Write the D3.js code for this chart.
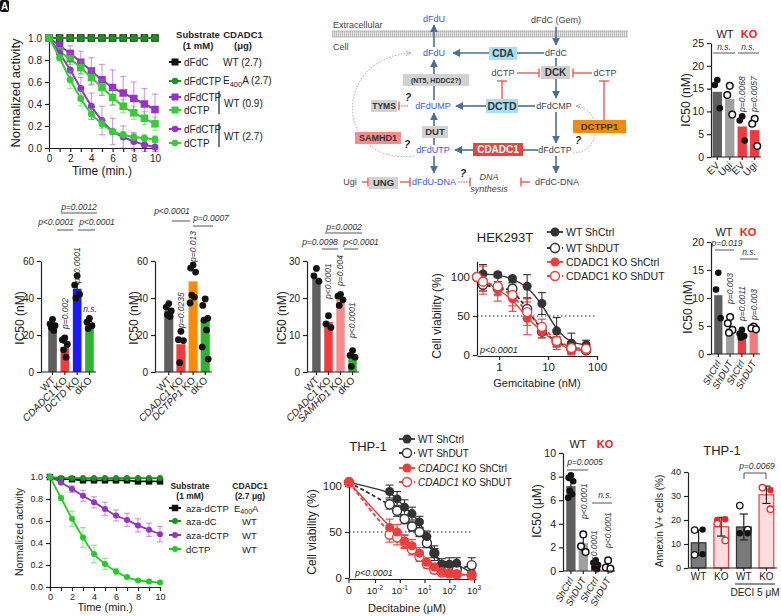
<!DOCTYPE html>
<html><head><meta charset="utf-8">
<script src="https://cdn.jsdelivr.net/npm/d3@7"></script>
<style>body{margin:0;background:#fff}</style>
</head><body><svg id="c" width="781" height="616"></svg>
<script>
// ---------------- DATA ----------------
// Panel A (gemcitabine nucleotides)
const timeMin = [0,1,2,3,4,5,6,7,8,9,10];
const aDfdc      = [1,1,1,1,1,1,1,1,1,1,1];
const aE400A     = [1,1,1,1,1,1,1,1,1,1,1];
const aDfdctp09  = [1.0,0.93,0.86,0.78,0.70,0.62,0.55,0.50,0.45,0.40,0.35];
const aDfdctp09E = [0,0.04,0.07,0.1,0.12,0.14,0.16,0.15,0.15,0.14,0.14];
const aDctp09    = [1.0,0.88,0.81,0.73,0.64,0.55,0.46,0.38,0.32,0.27,0.22];
const aDctp09E   = [0,0.03,0.05,0.06,0.07,0.07,0.07,0.06,0.06,0.06,0.06];
const aDfdctp27  = [1.0,0.86,0.71,0.54,0.38,0.25,0.15,0.10,0.06,0.03,0.01];
const aDfdctp27E = [0,0.04,0.08,0.1,0.12,0.13,0.12,0.1,0.08,0.06,0.04];
const aDctp27    = [1.0,0.82,0.62,0.45,0.31,0.22,0.15,0.12,0.10,0.09,0.08];
const aDctp27E   = [0,0.03,0.08,0.07,0.05,0.04,0.03,0.03,0.03,0.03,0.03];
// Panel I (decitabine nucleotides)
const iAzaDctpE400A = [1,0.98,0.98,0.97,0.97,0.97,0.97,0.97,0.96,0.96,0.96];
const iAzaDc        = [1,0.99,0.99,0.99,0.99,0.99,0.99,0.99,0.99,0.99,0.99];
const iAzaDctp      = [1.0,0.95,0.89,0.83,0.77,0.71,0.65,0.61,0.56,0.52,0.48];
const iAzaDctpE     = [0,0.02,0.03,0.05,0.05,0.06,0.05,0.06,0.06,0.06,0.07];
const iDctp         = [1.0,0.81,0.62,0.45,0.30,0.21,0.14,0.09,0.06,0.05,0.04];
const iDctpE        = [0,0.02,0.07,0.09,0.08,0.05,0.03,0.01,0.01,0.01,0.01];
// Panel C
const cLabels = ["EV","Ugi","EV","Ugi"];
const cVals = [14.3,12.7,6.7,5.9];
const cDots = [[16.9,15.8,10.7],[15.6,13.6,9.3],[8.9,8.0,3.6],[8.4,7.3,2.4]];
const cOpen = [false,true,false,true];
const cTicks = [0,5,10,15,20,25];
// Panel D
const dLabels = [[["WT",0]],[["CDADC1",1],[" KO",0]],[["DCTD",1],[" KO",0]],[["dKO",0]]];
const dVals = [25.3,13.5,45,26];
const dErr = [1.2,2.0,2.6,1.3];
const dDots = [[28.5,26,25,24,22.5],[18.5,17.5,15,12,8],[52,47,42,40],[29,27,25,23.5]];
const dTicks = [0,20,40,60];
// Panel E
const eLabels = [[["WT",0]],[["CDADC1",1],[" KO",0]],[["DCTPP1",1],[" KO",0]],[["dKO",0]]];
const eVals = [33,15,49,28];
const eDots = [[37,35,33,31,30],[22,17.5,17,5],[57.8,56.2,54,41.6,40.5,37.3],[39.5,36,29,28,22.7,13.5,7]];
// Panel F
const fLabels = [[["WT",0]],[["CDADC1",1],[" KO",0]],[["SAMHD1",1],[" KO",0]],[["dKO",0]]];
const fVals = [25.5,13.5,19.5,3.8];
const fDots = [[28,26,24.5],[15.2,13,12],[21,20.5,19.5,18],[5.8,4.5,4,1.5]];
const fTicks = [0,10,20,30];
// Panel G (HEK293T, gemcitabine nM)
const gConc = [0,0.47,0.94,1.88,3.75,7.5,15,30,60];
const gWtCtrl  = [100,104,103,98,88,66,31,15,13];
const gWtCtrlE = [0,12,3,3,15,14,17,13,6];
const gWtDut   = [100,90,86,85,59,30,17,8,6];
const gWtDutE  = [0,8,8,8,14,8,6,5,4];
const gKoCtrl  = [100,96,84,72,47,30,15,6,6];
const gKoCtrlE = [0,18,15,16,21,8,8,6,4];
const gKoDut   = [100,94,88,77,55,36,18,9,8];
const gKoDutE  = [0,12,12,14,17,10,8,8,5];
const gTicks = [1,10,100];
// Panel H
const hLabels = ["ShCtrl","ShDUT","ShCtrl","ShDUT"];
const hVals = [10.5,4.6,3.5,4.6];
const hDots = [[14.5,11.5,6.4],[6.6,5.5,4.3,3.8],[4.3,3.6,3.2,2.9],[4.9,4.6,4.4]];
const hOpen = [false,true,false,true];
const hTicks = [0,5,10,15,20];
// Panel J (THP-1, decitabine µM)
const jConc = [0,0.039,0.078,0.156,0.3125,0.625,1.25,2.5,5,10,20,80];
const jWtCtrl  = [104,94,86,77,70,61,45,27,15,15,16,5];
const jWtCtrlE = [0,7,8,8,7,6,6,8,6,7,6,5];
const jWtDut   = [104,80,73,64,56,50,38,27,14,10,9,14];
const jWtDutE  = [0,5,6,5,5,5,5,5,4,4,4,8];
const jKoCtrl  = [104,55,50,40,35,27,17,12,7,5,4,3];
const jKoCtrlE = [0,9,8,7,7,6,5,4,3,3,3,2];
const jKoDut   = [104,47,44,39,31,23,15,9,6,5,4,3];
const jKoDutE  = [0,8,8,7,6,5,4,4,3,3,3,2];
const jTickVals = [0.01,0.1,1,10,100];
const jTickLabels = [["10","-2"],["10","-1"],["10","1"],["10","2"],["10","3"]];
// Panel K
const kLabels = ["ShCtrl","ShDUT","ShCtrl","ShDUT"];
const kVals = [7.2,2.35,0.45,0.3];
const kErr = [0.45,0.6,0.15,0.12];
const kDots = [[8.1,7.9,7.6,6.8,6.5,6.2],[3.1,2.1,1.6],[0.9,0.7,0.5,0.3,0.15],[0.9,0.3,0.2]];
const kOpen = [false,true,false,true];
const kTicks = [0,2,4,6,8,10];
// Panel L
const lLabels = ["WT","KO","WT","KO"];
const lVals = [10.5,17.2,17.1,30.5];
const lSd = [5.3,3.9,5.4,3.6];
const lDots = [[15.8,16.0,5.5,5.8],[20.0,20.3,18.5,11.5],[26,16,14.5,14.5],[33.5,32.5,33.5,24.5]];
const lFilled = [[0,1,0,1],[1,1,0,0],[0,0,1,1],[1,1,0,0]];
const lTicks = [0,10,20,30,40];

// ---------------- HELPERS ----------------
const F = '"Liberation Sans", Arial, Helvetica, sans-serif';
const svg = d3.select('#c').attr('font-family', F);
const INK = '#222';
const RED = '#f03c3c';
function txt(x,y,s,o={}){
  const t = svg.append('text').attr('x',x).attr('y',y).text(s)
    .attr('font-size',o.size||10).attr('fill',o.fill||INK).attr('text-anchor',o.anchor||'start');
  if(o.bold) t.attr('font-weight','bold');
  if(o.italic) t.attr('font-style','italic');
  if(o.rot!=null) t.attr('transform',`rotate(${o.rot},${x},${y})`);
  return t;
}
function hline(x1,x2,y,c,w,dash){const l=svg.append('line').attr('x1',x1).attr('x2',x2).attr('y1',y).attr('y2',y).attr('stroke',c||'#555').attr('stroke-width',w||1); if(dash) l.attr('stroke-dasharray',dash); return l;}
function styleAxis(g,fs){
  g.attr('font-family',F);
  g.selectAll('path,line').attr('stroke',INK).attr('stroke-width',1.2);
  g.selectAll('text').attr('font-size',fs||10).attr('fill',INK);
}
function marker(g,shape,cx,cy,size,color,open){
  if(shape==='square') g.append('rect').attr('x',cx-size/2).attr('y',cy-size/2).attr('width',size).attr('height',size)
     .attr('fill',open?'#fff':color).attr('stroke',color).attr('stroke-width',open?1.4:0);
  else g.append('circle').attr('cx',cx).attr('cy',cy).attr('r',size/2)
     .attr('fill',open?'#fff':color).attr('stroke',color).attr('stroke-width',open?1.4:0);
}

// panel letter
svg.append('rect').attr('x',0).attr('y',0).attr('width',9).attr('height',12).attr('rx',2).attr('fill','#111');
txt(4.5,10,'A',{size:10,bold:true,fill:'#fff',anchor:'middle'});

// ---------------- KINETIC LINE CHARTS (A, I) ----------------
function kinetic(o){
  const x = d3.scaleLinear().domain([0,10]).range(o.xr);
  const y = d3.scaleLinear().domain([0,1]).range(o.yr);
  const g = svg.append('g');
  const ya = g.append('g').attr('transform',`translate(${o.xr[0]},0)`)
    .call(d3.axisLeft(y).tickValues([0,0.2,0.4,0.6,0.8,1.0]).tickFormat(d3.format('.1f')).tickSize(4).tickSizeOuter(0));
  styleAxis(ya,o.fs);
  const xa = g.append('g').attr('transform',`translate(0,${o.yr[0]})`)
    .call(d3.axisBottom(x).tickValues(d3.range(0,11)).tickFormat(d=>d%2?'':d).tickSize(4).tickSizeOuter(0));
  styleAxis(xa,o.fs);
  o.series.forEach(s=>{
    if(s.e){
      s.v.forEach((v,i)=>{ if(!s.e[i]) return;
        const cx=x(timeMin[i]);
        g.append('line').attr('x1',cx).attr('x2',cx).attr('y1',y(v-s.e[i])).attr('y2',y(v+s.e[i])).attr('stroke',s.c).attr('stroke-opacity',0.45).attr('stroke-width',1.2);
        [v-s.e[i],v+s.e[i]].forEach(w=>g.append('line').attr('x1',cx-3).attr('x2',cx+3).attr('y1',y(w)).attr('y2',y(w)).attr('stroke',s.c).attr('stroke-opacity',0.45).attr('stroke-width',1.2));
      });
    }
    g.append('path').datum(s.v).attr('fill','none').attr('stroke',s.c).attr('stroke-width',o.lw||2)
      .attr('d',d3.line().x((d,i)=>x(timeMin[i])).y(d=>y(d)).curve(d3.curveMonotoneX));
    s.v.forEach((v,i)=>marker(g,s.shape,x(timeMin[i]),y(v),s.shape==='square'?o.sq:o.cr,s.c,false));
  });
  return {x,y};
}
const PUR='#9632c8', GRN='#36cc36', DGRN='#1f8f1f';
kinetic({xr:[49,155], yr:[148,38], fs:10, sq:7.5, cr:7, series:[
  {v:aDfdc,c:'#111',shape:'square'},
  {v:aE400A,c:DGRN,shape:'circle'},
  {v:aDfdctp09,e:aDfdctp09E,c:PUR,shape:'square'},
  {v:aDctp09,e:aDctp09E,c:GRN,shape:'square'},
  {v:aDfdctp27,e:aDfdctp27E,c:PUR,shape:'circle'},
  {v:aDctp27,e:aDctp27E,c:GRN,shape:'circle'}
]});
txt(20,93,'Normalized activity',{size:13,anchor:'middle',rot:-90});
txt(102,175,'Time (min.)',{size:12,anchor:'middle'});
// legend A
txt(198,38,'Substrate',{size:9.5,bold:true,anchor:'middle'});
txt(198,49,'(1 mM)',{size:9.5,bold:true,anchor:'middle'});
txt(243,38,'CDADC1',{size:9.5,bold:true,anchor:'middle'});
txt(243,49,'(μg)',{size:9.5,bold:true,anchor:'middle'});
function legItem(y,shape,c,label,mx,tx,fs,sz){
  const g=svg.append('g');
  g.append('line').attr('x1',mx-6).attr('x2',mx+6).attr('y1',y).attr('y2',y).attr('stroke',c).attr('stroke-width',2);
  marker(g,shape,mx,y,sz,c,false);
  txt(tx,y+3.5,label,{size:fs});
}
legItem(62,'square','#111','dFdC',175,184,10,7);
legItem(81,'circle',DGRN,'dFdCTP',175,184,10,6.5);
legItem(97,'square',PUR,'dFdCTP',175,184,10,7);
legItem(110,'square',GRN,'dCTP',175,184,10,7);
legItem(129,'circle',PUR,'dFdCTP',175,184,10,6.5);
legItem(143,'circle',GRN,'dCTP',175,184,10,6.5);
txt(223,66,'WT (2.7)',{size:10});
{const t=txt(223,84,'E',{size:10}); t.append('tspan').attr('font-size',7.5).attr('dy',3).text('400'); t.append('tspan').attr('dy',-3).text('A (2.7)');}
svg.append('line').attr('x1',219).attr('x2',219).attr('y1',91).attr('y2',114).attr('stroke',INK).attr('stroke-width',1.2);
txt(224,107,'WT (0.9)',{size:10});
svg.append('line').attr('x1',219).attr('x2',219).attr('y1',123).attr('y2',147).attr('stroke',INK).attr('stroke-width',1.2);
txt(224,140,'WT (2.7)',{size:10});

kinetic({xr:[50,160], yr:[587,477], fs:9, sq:6.5, cr:6, lw:1.8, series:[
  {v:iAzaDctpE400A,c:'#111',shape:'square'},
  {v:iAzaDc,c:DGRN,shape:'circle'},
  {v:iAzaDctp,e:iAzaDctpE,c:PUR,shape:'circle'},
  {v:iDctp,e:iDctpE,c:'#22cc22',shape:'circle'}
]});
txt(23,532,'Normalized activity',{size:10.5,anchor:'middle',rot:-90});
txt(105,611,'Time (min.)',{size:11,anchor:'middle'});
txt(190,489,'Substrate',{size:8.5,bold:true,anchor:'middle'});
txt(190,498.5,'(1 mM)',{size:8.5,bold:true,anchor:'middle'});
txt(250,489,'CDADC1',{size:8.5,bold:true,anchor:'middle'});
txt(250,498.5,'(2.7 μg)',{size:8.5,bold:true,anchor:'middle'});
legItem(508,'square','#111','aza-dCTP',175,186,9.5,6.5);
legItem(521,'circle',DGRN,'aza-dC',175,186,9.5,6);
legItem(535,'circle',PUR,'aza-dCTP',175,186,9.5,6);
legItem(549,'circle','#22cc22','dCTP',175,186,9.5,6);
{const t=txt(234,511.5,'E',{size:9.5}); t.append('tspan').attr('font-size',7).attr('dy',2.5).text('400'); t.append('tspan').attr('dy',-2.5).text('A');}
txt(242,524.5,'WT',{size:9.5}); txt(242,538.5,'WT',{size:9.5}); txt(242,552.5,'WT',{size:9.5});

// ---------------- BAR CHARTS ----------------
const JIT=[0,-1,1,-0.5,0.5,-1.2,1.2];
function bars(o){
  const y=d3.scaleLinear().domain([0,o.max]).range([o.y0,o.yTop]);
  const x=d3.scaleBand().domain(d3.range(o.vals.length)).range(o.xr).paddingInner(o.pi??0.3).paddingOuter(o.po??0.1);
  const g=svg.append('g');
  const bw=x.bandwidth();
  g.selectAll('rect.b').data(o.vals).join('rect').attr('x',(d,i)=>x(i)).attr('y',d=>y(d)).attr('width',bw)
    .attr('height',d=>o.y0-y(d)).attr('fill',(d,i)=>o.colors[i])
    .attr('stroke',(d,i)=>o.strokes?o.strokes[i]:'none').attr('stroke-width',1.2);
  if(o.errs) o.vals.forEach((v,i)=>{
    const cx=x(i)+bw/2, c=o.errColor||INK;
    g.append('line').attr('x1',cx).attr('x2',cx).attr('y1',y(Math.max(0,v-o.errs[i]))).attr('y2',y(v+o.errs[i])).attr('stroke',c).attr('stroke-width',1.2);
    [v+o.errs[i]].concat(o.errBoth?[v-o.errs[i]]:[]).forEach(w=>g.append('line').attr('x1',cx-bw*0.28).attr('x2',cx+bw*0.28).attr('y1',y(w)).attr('y2',y(w)).attr('stroke',c).attr('stroke-width',1.2));
  });
  o.dots.forEach((arr,i)=>arr.forEach((v,j)=>{
    const cx=x(i)+bw/2+JIT[j%JIT.length]*(o.jit??3);
    const open=o.open?o.open[i]:false;
    g.append('circle').attr('cx',cx).attr('cy',y(v)).attr('r',o.r||3.3)
      .attr('fill',open?'#fff':(o.dotColor||'#111')).attr('stroke',o.dotColor||'#111').attr('stroke-width',open?1.5:0);
  }));
  const ya=g.append('g').attr('transform',`translate(${o.ax},0)`)
    .call(d3.axisLeft(y).tickValues(o.ticks).tickSize(4).tickSizeOuter(0));
  styleAxis(ya,o.fs||10);
  g.append('line').attr('x1',o.ax).attr('x2',o.xr[1]+1).attr('y1',o.y0).attr('y2',o.y0).attr('stroke',INK).attr('stroke-width',1.2);
  o.vals.forEach((v,i)=>{const cx=x(i)+bw/2; g.append('line').attr('x1',cx).attr('x2',cx).attr('y1',o.y0).attr('y2',o.y0+3).attr('stroke',INK).attr('stroke-width',1.2);});
  if(o.labels) o.labels.forEach((l,i)=>{
    const cx=x(i)+bw/2+(o.lxo??3), ly=o.y0+(o.lyo??9);
    const t=svg.append('text').attr('x',cx).attr('y',ly).attr('font-size',o.lfs||10).attr('fill',INK)
      .attr('text-anchor','end').attr('transform',`rotate(${o.rot??-45},${cx},${ly})`);
    const segs=Array.isArray(l)?l:[[l,o.litalic?1:0]];
    segs.forEach(s=>t.append('tspan').text(s[0]).attr('font-style',s[1]?'italic':'normal'));
  });
  return {x,y,bw};
}
function vp(x,y,s,fs){return txt(x,y,s,{size:fs||8.5,italic:true,rot:-90,fill:'#333'});}

// Panel C
bars({ax:711,y0:157,yTop:43,max:25,xr:[712,760],pi:0.25,po:0.05,vals:cVals,colors:['#5f5f5f','#a0a0a0',RED,RED],
  dots:cDots,open:cOpen,ticks:cTicks,fs:10.5,labels:cLabels,jit:2.5,r:3.3});
txt(690,100,'IC50 (nM)',{size:12,anchor:'middle',rot:-90});
txt(725,38,'WT',{size:11,anchor:'middle'});
txt(749,38,'KO',{size:11,anchor:'middle',fill:'#ff2020',bold:true});
txt(724,50,'n.s.',{size:8.5,italic:true,anchor:'middle',fill:'#333'}); hline(713,735,53);
txt(748,50,'n.s.',{size:8.5,italic:true,anchor:'middle',fill:'#333'}); hline(738,759,53);
vp(745,112,'p=0.0068'); vp(757,112,'p=0.0057');

// Panel D
bars({ax:41,y0:372,yTop:261,max:60,xr:[47,95],vals:dVals,errs:dErr,colors:['#5f5f5f',RED,'#1a1aff','#2db52d'],
  dots:dDots,ticks:dTicks,labels:dLabels,jit:2.5,r:3.4});
txt(24,318,'IC50 (nM)',{size:12,anchor:'middle',rot:-90});
vp(68,329,'p=0.002'); vp(80,283,'p<0.0001');
txt(90,312,'n.s.',{size:8.5,italic:true,anchor:'middle',fill:'#333'});
txt(79,210,'p=0.0012',{size:8.5,italic:true,anchor:'middle',fill:'#333'}); hline(61,97,213);
txt(56,225,'p<0.0001',{size:8.5,italic:true,anchor:'middle',fill:'#333'}); hline(57,73,230);
txt(97,225,'p<0.0001',{size:8.5,italic:true,anchor:'middle',fill:'#333'}); hline(78,95,230);

// Panel E
bars({ax:155,y0:372,yTop:261,max:60,xr:[163,211],pi:0.25,vals:eVals,colors:['#5f5f5f',RED,'#ff8c00','#2db52d'],
  dots:eDots,ticks:dTicks,labels:eLabels,jit:2.5,r:3.4});
txt(138,318,'IC50 (nM)',{size:12,anchor:'middle',rot:-90});
vp(184,328,'p=0.0235'); vp(196,262,'p=0.013');
txt(172,214,'p<0.0001',{size:8.5,italic:true,anchor:'middle',fill:'#333'}); hline(172,190,221);
txt(211,221,'p=0.0007',{size:8.5,italic:true,anchor:'middle',fill:'#333'}); hline(193,213,226);

// Panel F
bars({ax:307,y0:372,yTop:261,max:30,xr:[311,358],vals:fVals,colors:['#5f5f5f',RED,'#f78a8a','#2db52d'],
  dots:fDots,ticks:fTicks,labels:fLabels,jit:2.5,r:3.4});
txt(286,318,'IC50 (nM)',{size:12,anchor:'middle',rot:-90});
vp(331,299,'p<0.0001'); vp(343,286,'p=0.004'); vp(355,338,'p<0.0001');
txt(344,230,'p=0.0002',{size:8.5,italic:true,anchor:'middle',fill:'#333'}); hline(325,362,233);
txt(320,245,'p=0.0098',{size:8.5,italic:true,anchor:'middle',fill:'#333'}); hline(322,338,249);
txt(361,245,'p<0.0001',{size:8.5,italic:true,anchor:'middle',fill:'#333'}); hline(344,358,249);

// Panel H
bars({ax:711,y0:354,yTop:242,max:20,xr:[713,759],vals:hVals,colors:['#5f5f5f','#a0a0a0',RED,'#f57a7a'],
  dots:hDots,open:hOpen,ticks:hTicks,fs:10.5,labels:hLabels,litalic:true,rot:-60,lfs:9.5,jit:2.3,r:3.3});
txt(692,307,'IC50 (nM)',{size:12,anchor:'middle',rot:-90});
txt(724,236,'WT',{size:11,anchor:'middle'});
txt(748,236,'KO',{size:11,anchor:'middle',fill:'#ff2020',bold:true});
txt(727,246,'p=0.019',{size:8.5,italic:true,anchor:'middle',fill:'#333'}); hline(715,734,250);
txt(749,255,'n.s.',{size:8.5,italic:true,anchor:'middle',fill:'#333'}); hline(740,758,259);
vp(733,304,'p=0.003'); vp(745,321,'p=0.0011'); vp(757,320,'p=0.003');

// Panel K
bars({ax:563,y0:571,yTop:453,max:10,xr:[565,614],pi:0.25,vals:kVals,errs:kErr,errBoth:true,colors:['#5f5f5f','#a0a0a0',RED,'#f57a7a'],
  dots:kDots,open:kOpen,ticks:kTicks,fs:10.5,labels:kLabels,litalic:true,rot:-60,lfs:9.5,jit:2.3,r:3.3});
txt(541,511,'IC50 (μM)',{size:12,anchor:'middle',rot:-90});
txt(578,448,'WT',{size:11,anchor:'middle'});
txt(605,448,'KO',{size:11,anchor:'middle',fill:'#ff2020',bold:true});
txt(585,465,'p=0.0005',{size:8.5,italic:true,anchor:'middle',fill:'#333'}); hline(567,588,470);
txt(605,498,'n.s.',{size:8.5,italic:true,anchor:'middle',fill:'#333'}); hline(592,612,503);
vp(587,519,'p<0.0001'); vp(597,566,'p<0.0001'); vp(611,548,'p<0.0001');

// Panel L
{
const r=bars({ax:688,y0:568,yTop:472,max:40,xr:[689,776],pi:0.35,po:0.1,vals:lVals,errs:lSd,errBoth:true,
  colors:['#7a7a7a','#fcdcdc','#7a7a7a','#fcdcdc'],strokes:['#333',RED,'#333',RED],
  dots:[[],[],[],[]],ticks:lTicks,fs:9});
const offs=[-4,4,-4,4];
lDots.forEach((arr,i)=>arr.forEach((v,j)=>{
  const c=(i%2)?'#ff1f1f':'#111', f=lFilled[i][j];
  svg.append('circle').attr('cx',r.x(i)+r.bw/2+offs[j]).attr('cy',r.y(v)).attr('r',3.2)
    .attr('fill',f?c:'#fff').attr('stroke',c).attr('stroke-width',f?0:1.3);
}));
lLabels.forEach((l,i)=>txt(r.x(i)+r.bw/2,580,l,{size:10,anchor:'middle'}));
hline(735,775,584,INK,1.2);
txt(755,596,'DECI 5 μM',{size:10,anchor:'middle'});
txt(722,455,'THP-1',{size:13,anchor:'middle'});
txt(663,521,'Annexin V+ cells (%)',{size:10,anchor:'middle',rot:-90});
txt(757,469,'p=0.0069',{size:8.5,italic:true,anchor:'middle',fill:'#333'});
svg.append('path').attr('d','M744,479V473H766V479').attr('fill','none').attr('stroke','#555').attr('stroke-width',1);
}

// ---------------- DOSE RESPONSE (G, J) ----------------
function dose(o){
  const g=svg.append('g');
  const xp=c=>c===0?o.x.range()[0]:o.x(c);
  o.series.forEach(s=>{
    s.v.forEach((v,i)=>{ if(!s.e[i]) return; const cx=xp(o.conc[i]);
      g.append('line').attr('x1',cx).attr('x2',cx).attr('y1',o.y(Math.max(0,v-s.e[i]))).attr('y2',o.y(v+s.e[i])).attr('stroke',s.c).attr('stroke-width',1.1);
      [v-s.e[i],v+s.e[i]].forEach(w=>g.append('line').attr('x1',cx-4).attr('x2',cx+4).attr('y1',o.y(Math.max(0,w))).attr('y2',o.y(Math.max(0,w))).attr('stroke',s.c).attr('stroke-width',1.1));
    });
  });
  o.series.forEach(s=>{
    g.append('path').datum(s.v).attr('fill','none').attr('stroke',s.c).attr('stroke-width',s.dash?1.8:1.4)
      .attr('stroke-dasharray',s.dash?'4,2.5':null)
      .attr('d',d3.line().x((d,i)=>xp(o.conc[i])).y(d=>o.y(d)).curve(d3.curveBasis));
  });
  o.series.forEach(s=>s.v.forEach((v,i)=>marker(g,'circle',xp(o.conc[i]),o.y(v),o.ms,s.c,s.open)));
  return g;
}
// G
{
const x=d3.scaleLog().domain([0.355,100]).range([477,597]);
const y=d3.scaleLinear().domain([0,120]).range([355,261.4]);
const ya=svg.append('g').attr('transform','translate(477,0)').call(d3.axisLeft(y).tickValues([0,50,100]).tickSize(4).tickSizeOuter(0));
styleAxis(ya,11.5);
const xa=svg.append('g').attr('transform','translate(0,356)').call(d3.axisBottom(x).tickValues(gTicks).tickFormat(d3.format('d')).tickSize(4).tickSizeOuter(0));
styleAxis(xa,11.5);
hline(477,597,y(50),INK,1.2,'1.5,2.5');
dose({x,y,conc:gConc,ms:9,series:[
  {v:gWtCtrl,e:gWtCtrlE,c:'#333',open:false},
  {v:gWtDut,e:gWtDutE,c:'#333',open:true,dash:true},
  {v:gKoCtrl,e:gKoCtrlE,c:RED,open:false},
  {v:gKoDut,e:gKoDutE,c:RED,open:true,dash:true}]});
txt(505,242,'HEK293T',{size:13,anchor:'middle'});
txt(537,387,'Gemcitabine (nM)',{size:11,anchor:'middle'});
txt(441,316,'Cell viability (%)',{size:12,anchor:'middle',rot:-90});
txt(480,353,'p<0.0001',{size:9,italic:true});
}
// J
{
const x=d3.scaleLog().domain([0.00089,120]).range([349,476]);
const y=d3.scaleLinear().domain([0,110]).range([578,476.8]);
const ya=svg.append('g').attr('transform','translate(349,0)').call(d3.axisLeft(y).tickValues([0,50,100]).tickSize(4).tickSizeOuter(0));
styleAxis(ya,11.5);
const xa=svg.append('g').attr('transform','translate(0,579)').call(d3.axisBottom(x).tickValues(jTickVals).tickFormat('').tickSize(4).tickSizeOuter(0));
styleAxis(xa,10);
svg.append('line').attr('x1',349).attr('x2',349).attr('y1',579).attr('y2',583).attr('stroke',INK).attr('stroke-width',1.2);
txt(349,594,'0',{size:10.5,anchor:'middle'});
jTickVals.forEach((v,i)=>{const t=txt(x(v),594,jTickLabels[i][0],{size:9.5,anchor:'middle'}); t.append('tspan').attr('font-size',6.5).attr('dy',-4).text(jTickLabels[i][1]);});
hline(349,472,y(50),INK,1.2,'1.5,2.5');
dose({x,y,conc:jConc,ms:9,series:[
  {v:jWtDut,e:jWtDutE,c:'#333',open:true,dash:true},
  {v:jWtCtrl,e:jWtCtrlE,c:'#333',open:false},
  {v:jKoDut,e:jKoDutE,c:RED,open:true,dash:true},
  {v:jKoCtrl,e:jKoCtrlE,c:RED,open:false}]});
txt(368,451,'THP-1',{size:13,anchor:'middle'});
txt(407,612,'Decitabine (μM)',{size:11,anchor:'middle'});
txt(316,532,'Cell viability (%)',{size:12,anchor:'middle',rot:-90});
txt(355,576,'p<0.0001',{size:9,italic:true});
}
// legends G, J
function doseLeg(mx,tx,y,c,open,dash,parts,fs){
  const g=svg.append('g');
  g.append('line').attr('x1',mx-8).attr('x2',mx+8).attr('y1',y).attr('y2',y).attr('stroke',c).attr('stroke-width',1.8).attr('stroke-dasharray',dash?'3,2':null);
  marker(g,'circle',mx,y,9,c,open);
  const t=txt(tx,y+4,'',{size:fs});
  parts.forEach(p=>t.append('tspan').text(p[0]).attr('font-style',p[1]?'italic':'normal'));
}
doseLeg(555,566,232,'#333',false,false,[['WT ShCtrl',0]],10.5);
doseLeg(555,566,248,'#333',true,true,[['WT ShDUT',0]],10.5);
doseLeg(555,566,262,RED,false,false,[['CDADC1 KO ShCtrl',0]],10.5);
doseLeg(555,566,276,RED,true,true,[['CDADC1 KO ShDUT',0]],10.5);
doseLeg(407,418,439,'#333',false,false,[['WT ShCtrl',0]],10);
doseLeg(407,418,453,'#333',true,true,[['WT ShDUT',0]],10);
doseLeg(407,418,468,RED,false,false,[['CDADC1',1],[' KO ShCtrl',0]],10);
doseLeg(407,418,482,RED,true,true,[['CDADC1',1],[' KO ShDUT',0]],10);

// ---------------- PATHWAY (B) ----------------
{
const defs=svg.append('defs');
const BL='#4d6f94';
defs.append('marker').attr('id','ah').attr('viewBox','0 0 10 10').attr('refX',9).attr('refY',5)
  .attr('markerWidth',8).attr('markerHeight',8).attr('markerUnits','userSpaceOnUse').attr('orient','auto')
  .append('path').attr('d','M0,0L10,5L0,10z').attr('fill',BL);
defs.append('marker').attr('id','ahg').attr('viewBox','0 0 10 10').attr('refX',9).attr('refY',5)
  .attr('markerWidth',6).attr('markerHeight',6).attr('markerUnits','userSpaceOnUse').attr('orient','auto')
  .append('path').attr('d','M0,1L9,5L0,9').attr('fill','none').attr('stroke','#9aaec4').attr('stroke-width',1.5);
const pat=defs.append('pattern').attr('id','mem').attr('width',2).attr('height',6).attr('patternUnits','userSpaceOnUse');
pat.append('rect').attr('width',2).attr('height',6).attr('fill','#e3e3e3');
pat.append('line').attr('x1',0.5).attr('x2',0.5).attr('y1',0).attr('y2',6).attr('stroke','#b5b5b5').attr('stroke-width',0.8);
svg.append('rect').attr('x',332).attr('y',31).attr('width',296).attr('height',6).attr('fill','url(#mem)');
hline(332,628,31,'#aaa',0.8); hline(332,628,37,'#aaa',0.8);
const BLUE='#3a5bea', GR='#444';
txt(333,28,'Extracellular',{size:9,fill:GR});
txt(333,50,'Cell',{size:9,fill:GR});
svg.append('path').attr('d','M414,156 C335,166 330,58 411,53').attr('fill','none').attr('stroke','#9aaec4').attr('stroke-width',0.9).attr('stroke-dasharray','1.5,1.5').attr('marker-end','url(#ahg)');
svg.append('path').attr('d','M573,153 C603,153 602,108 576,106').attr('fill','none').attr('stroke','#9aaec4').attr('stroke-width',0.9).attr('stroke-dasharray','1.5,1.5').attr('marker-end','url(#ahg)');
function arr(x1,y1,x2,y2,head){svg.append('line').attr('x1',x1).attr('y1',y1).attr('x2',x2).attr('y2',y2).attr('stroke',BL).attr('stroke-width',1.6).attr('marker-end',head?'url(#ah)':null);}
arr(556,27,556,45,1); arr(434,47,434,25,1);
arr(544,53,517,53,0); arr(489,53,453,53,1);
arr(556,58,556,66,0); arr(556,79,556,98,1);
arr(535,106,518,106,0); arr(486,106,456,106,1);
arr(434,100,434,86,0); arr(434,74,434,60,1);
arr(434,145,434,138,0); arr(434,126,434,113,1);
arr(556,112,556,143,1);
arr(538,150,523,150,0); arr(473,150,455,150,1);
arr(434,156,434,173,1); arr(556,156,556,173,1);
function inh(x1,y1,x2,y2,dotted){
  svg.append('line').attr('x1',x1).attr('y1',y1).attr('x2',x2).attr('y2',y2).attr('stroke','#ee3b3b').attr('stroke-width',1.2).attr('stroke-dasharray',dotted?'1.5,1.2':null);
  const vert=(x1===x2);
  if(vert) svg.append('line').attr('x1',x2-5).attr('x2',x2+5).attr('y1',y2).attr('y2',y2).attr('stroke','#ee3b3b').attr('stroke-width',1.2);
  else svg.append('line').attr('x1',x2).attr('x2',x2).attr('y1',y2-4.5).attr('y2',y2+4.5).attr('stroke','#ee3b3b').attr('stroke-width',1.2);
}
inh(517,73,539,73); inh(592,73,573,73);
inh(502,99,502,81); inh(604,120,604,81);
inh(362,182,368,182); inh(400,182,410,182);
inh(458,182,470,182,true); inh(530,182,521,182);
inh(408,106,399,106,true);
function box(x,y,w,h,fill,label,o={}){
  svg.append('rect').attr('x',x).attr('y',y).attr('width',w).attr('height',h).attr('fill',fill);
  txt(x+w/2,y+h/2+(o.size||9.5)*0.36,label,{size:o.size||9.5,bold:true,anchor:'middle',fill:o.fill||'#333'});
}
box(489,47,28,13,'#a6def5','CDA',{size:10});
box(541,66,29,13,'#cfcfcf','DCK',{size:10});
box(486,99,32,14,'#a6def5','DCTD',{size:10.5});
box(403,74,66,12,'#d2d2d2','(NT5, HDDC2?)',{size:7});
box(371,100,26,12,'#d2d2d2','TYMS',{size:8.5});
box(422,126,26,12,'#d2d2d2','DUT',{size:9.5});
box(355,132,46,12,'#f78c8c','SAMHD1',{size:9});
box(473,143,50,13,'#e8453c','CDADC1',{size:10,fill:'#fff'});
box(573,120,53,13,'#f58a07','DCTPP1',{size:9.5});
box(369,177,29,12,'#d2d2d2','UNG',{size:9.5});
const N=(x,y,s,c,o={})=>txt(x,y,s,Object.assign({size:9,anchor:'middle',fill:c},o));
N(434,22,'dFdU',BLUE); N(556,23,'dFdC (Gem)',GR);
N(434,56,'dFdU',BLUE); N(556,56,'dFdC',GR);
N(503,76,'dCTP',GR); N(605,76,'dCTP',GR);
N(433,109,'dFdUMP',BLUE); N(554,109,'dFdCMP',GR);
N(433,153,'dFdUTP',BLUE); N(555,153,'dFdCTP',GR);
N(434,185,'dFdU-DNA',BLUE); N(557,185,'dFdC-DNA',GR);
N(350,185,'Ugi',GR);
N(489,180,'DNA',GR,{italic:true}); N(489,192,'synthesis',GR,{italic:true});
const Q=(x,y)=>txt(x,y,'?',{size:10,bold:true,italic:true,anchor:'middle',fill:'#222'});
Q(408,101); Q(407,148); Q(578,144); Q(463,177);
}
</script></body></html>
